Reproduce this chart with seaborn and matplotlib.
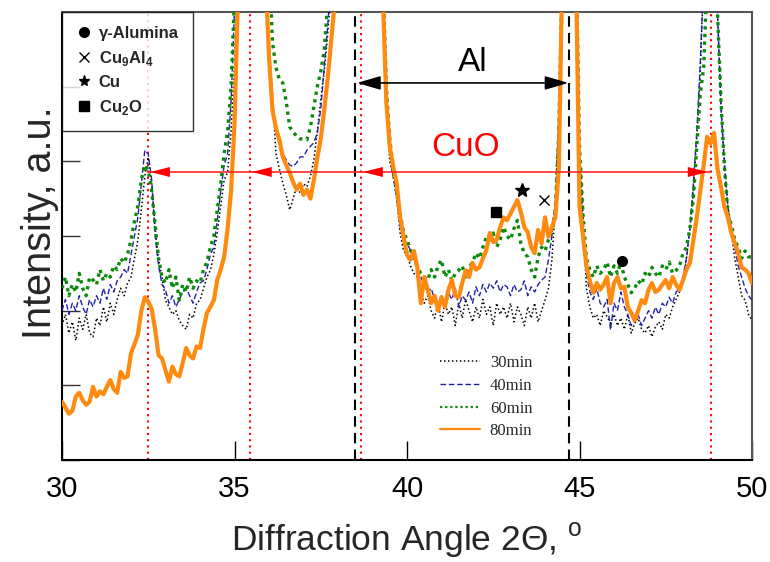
import numpy as np
import pandas as pd
import matplotlib
matplotlib.use("Agg")
import matplotlib.pyplot as plt
from matplotlib.lines import Line2D
import seaborn as sns

# ---------------- data ----------------
angle_start, angle_step, n_pts = 30.0, 0.1, 201
angles = np.round(angle_start + angle_step * np.arange(n_pts), 2)

int_30min = [
    1.80, 1.95, 1.70, 1.85, 1.60, 1.90, 1.75, 1.95, 1.70, 1.65,
    1.90, 1.80, 2.05, 1.85, 2.10, 1.95, 2.15, 2.30, 2.20, 2.37,
    2.45, 2.70, 2.95, 3.35, 3.80, 4.05, 3.70, 3.10, 2.68, 2.45,
    2.14, 2.05, 1.95, 2.00, 1.87, 1.80, 1.75, 1.95, 1.90, 2.10,
    2.14, 2.30, 2.45, 2.54, 2.75, 3.05, 3.40, 3.75, 3.85, 4.40,
    5.30, 6.50, 7.50, 8.00, 8.00, 8.00, 8.00, 8.00, 7.50, 6.80,
    5.60, 4.90, 4.11, 3.90, 3.71, 3.55, 3.35, 3.50, 3.66, 3.58,
    3.70, 3.66, 3.80, 4.02, 4.40, 4.82, 5.20, 5.70, 6.30, 7.00,
    8.00, 8.00, 8.00, 8.00, 8.00, 8.00, 8.00, 8.00, 8.00, 8.00,
    8.00, 8.00, 8.00, 6.20, 4.70, 4.00, 3.80, 3.50, 3.04, 2.80,
    2.75, 2.60, 2.50, 2.45, 2.25, 2.10, 2.20, 2.00, 1.90, 2.10,
    1.85, 2.10, 1.95, 2.05, 1.80, 2.10, 1.90, 2.15, 2.00, 1.85,
    2.05, 1.90, 2.15, 1.95, 2.05, 1.80, 2.10, 1.95, 2.05, 1.90,
    2.10, 1.85, 2.05, 1.95, 1.80, 2.05, 1.90, 2.10, 1.85, 2.00,
    2.14, 2.30, 2.68, 3.40, 4.50, 6.50, 8.00, 8.00, 8.00, 6.80,
    4.20, 3.30, 2.30, 2.05, 1.90, 1.95, 1.80, 2.00, 1.92, 1.83,
    1.95, 1.80, 1.90, 1.75, 1.95, 1.70, 1.83, 1.90, 1.75, 1.70,
    1.80, 1.65, 1.78, 1.85, 1.75, 1.95, 1.90, 2.05, 2.15, 2.25,
    2.40, 2.70, 3.10, 3.60, 4.30, 5.20, 6.50, 7.50, 8.00, 7.30,
    6.00, 4.80, 3.93, 3.40, 3.04, 2.70, 2.45, 2.20, 2.14, 1.95,
    1.87,
]

int_40min = [
    2.00, 2.15, 1.95, 2.10, 2.00, 2.20, 2.05, 1.95, 2.15, 2.05,
    2.20, 2.10, 2.30, 2.15, 2.35, 2.25, 2.40, 2.45, 2.55, 2.50,
    2.75, 3.00, 3.25, 3.70, 4.15, 4.10, 3.75, 3.00, 2.60, 2.35,
    2.28, 2.10, 2.20, 2.05, 2.15, 2.25, 2.30, 2.20, 2.10, 2.25,
    2.37, 2.40, 2.55, 2.75, 2.85, 3.20, 3.60, 3.95, 4.10, 4.80,
    6.00, 7.50, 8.00, 8.00, 8.00, 8.00, 8.00, 8.00, 7.50, 6.50,
    5.50, 4.82, 4.40, 4.24, 4.10, 4.02, 3.95, 3.93, 3.98, 4.06,
    4.06, 4.15, 4.20, 4.25, 4.38, 4.70, 5.26, 5.80, 6.50, 7.30,
    8.00, 8.00, 8.00, 8.00, 8.00, 8.00, 8.00, 8.00, 8.00, 8.00,
    8.00, 8.00, 8.00, 6.30, 4.80, 4.10, 3.80, 3.50, 3.12, 2.95,
    2.90, 2.81, 2.70, 2.55, 2.45, 2.35, 2.24, 2.30, 2.15, 2.05,
    2.20, 2.10, 2.24, 2.15, 2.30, 2.05, 2.20, 2.14, 2.25, 2.10,
    2.32, 2.20, 2.35, 2.25, 2.37, 2.30, 2.40, 2.25, 2.35, 2.32,
    2.20, 2.35, 2.25, 2.28, 2.40, 2.20, 2.32, 2.25, 2.35, 2.41,
    2.45, 2.68, 3.00, 3.50, 4.60, 6.50, 8.00, 8.00, 8.00, 6.80,
    4.00, 3.10, 2.50, 2.25, 2.15, 2.30, 2.10, 2.05, 2.15, 1.74,
    2.10, 2.00, 2.25, 2.05, 1.95, 1.80, 1.87, 1.95, 1.80, 1.90,
    2.00, 1.90, 2.05, 1.95, 2.10, 2.05, 2.18, 2.10, 2.25, 2.30,
    2.45, 2.70, 3.10, 3.70, 4.40, 5.30, 6.50, 7.80, 8.00, 7.50,
    6.00, 4.70, 4.00, 3.40, 3.10, 2.85, 2.60, 2.45, 2.30, 2.20,
    2.14,
]

int_60min = [
    2.30, 2.45, 2.20, 2.35, 2.25, 2.50, 2.30, 2.20, 2.45, 2.41,
    2.35, 2.55, 2.40, 2.50, 2.45, 2.60, 2.55, 2.70, 2.64, 2.75,
    2.95, 3.20, 3.40, 3.75, 3.95, 3.88, 3.60, 3.15, 2.70, 2.45,
    2.37, 2.55, 2.30, 2.45, 2.14, 2.35, 2.25, 2.45, 2.30, 2.40,
    2.37, 2.55, 2.65, 2.85, 3.00, 3.35, 3.70, 4.10, 4.40, 5.00,
    6.20, 7.50, 8.00, 8.00, 8.00, 8.00, 8.00, 8.00, 8.00, 7.50,
    6.80, 5.60, 5.26, 5.10, 5.05, 4.80, 4.46, 4.40, 4.33, 4.30,
    4.30, 4.29, 4.46, 4.73, 5.00, 5.20, 5.49, 6.10, 6.80, 7.50,
    8.00, 8.00, 8.00, 8.00, 8.00, 8.00, 8.00, 8.00, 8.00, 8.00,
    8.00, 8.00, 8.00, 6.50, 5.00, 4.30, 3.90, 3.60, 3.30, 3.05,
    2.95, 2.81, 2.70, 2.58, 2.50, 2.45, 2.41, 2.55, 2.45, 2.60,
    2.68, 2.45, 2.55, 2.40, 2.50, 2.54, 2.60, 2.45, 2.58, 2.65,
    2.77, 2.70, 2.85, 2.99, 2.90, 3.04, 2.85, 2.95, 3.12, 3.00,
    2.95, 3.10, 3.21, 2.90, 2.77, 2.72, 2.55, 2.45, 2.72, 2.85,
    2.80, 2.95, 3.05, 3.35, 4.40, 6.50, 8.00, 8.00, 8.00, 6.80,
    4.20, 3.30, 2.70, 2.55, 2.45, 2.60, 2.50, 2.55, 2.65, 2.45,
    2.60, 2.50, 2.65, 2.45, 2.35, 2.24, 2.30, 2.40, 2.35, 2.50,
    2.45, 2.58, 2.50, 2.45, 2.60, 2.55, 2.65, 2.50, 2.54, 2.60,
    2.77, 2.85, 3.10, 3.50, 4.20, 4.90, 5.26, 6.50, 7.50, 7.00,
    6.00, 4.82, 3.93, 3.30, 3.15, 2.95, 2.85, 2.70, 2.80, 2.72,
    2.72,
]

int_80min = [
    0.78, 0.70, 0.62, 0.66, 0.85, 0.90, 0.80, 0.74, 0.78, 0.98,
    0.85, 0.92, 0.88, 0.98, 1.07, 0.95, 0.90, 1.18, 1.10, 1.12,
    1.43, 1.55, 1.68, 2.00, 2.18, 2.12, 2.02, 1.75, 1.40, 1.36,
    1.20, 1.05, 1.25, 1.15, 1.12, 1.30, 1.50, 1.40, 1.36, 1.52,
    1.50, 1.75, 1.97, 2.05, 2.14, 2.41, 2.55, 2.72, 3.10, 3.60,
    4.50, 6.20, 7.00, 7.50, 7.50, 7.50, 7.50, 7.30, 7.00, 6.50,
    5.40, 4.69, 4.45, 4.29, 4.06, 3.95, 3.85, 3.72, 3.62, 3.70,
    3.55, 3.62, 3.50, 3.75, 4.05, 4.30, 4.69, 5.10, 5.60, 6.10,
    6.80, 7.50, 8.00, 8.00, 8.00, 8.00, 8.00, 8.00, 8.00, 8.00,
    8.00, 8.00, 8.00, 6.20, 4.80, 4.20, 3.93, 3.71, 3.25, 2.99,
    2.75, 2.68, 2.80, 2.58, 2.10, 2.45, 2.28, 2.10, 2.20, 2.00,
    2.18, 2.05, 2.28, 2.41, 2.20, 2.18, 2.37, 2.54, 2.45, 2.64,
    2.55, 2.58, 2.70, 2.81, 3.04, 2.92, 2.95, 3.12, 3.25, 3.21,
    3.30, 3.39, 3.48, 3.32, 3.12, 3.05, 2.85, 2.77, 3.08, 2.90,
    3.25, 2.99, 3.12, 3.25, 3.90, 6.50, 8.00, 8.00, 8.00, 6.50,
    3.40, 3.00, 2.60, 2.40, 2.24, 2.37, 2.28, 2.35, 2.45, 2.10,
    2.37, 2.45, 2.30, 2.32, 2.05, 1.97, 1.87, 2.00, 2.14, 2.10,
    2.28, 2.37, 2.25, 2.28, 2.35, 2.41, 2.30, 2.45, 2.35, 2.28,
    2.41, 2.55, 2.64, 2.95, 3.25, 3.60, 3.95, 4.33, 4.24, 4.38,
    3.90, 3.66, 3.39, 3.25, 3.04, 2.90, 2.77, 2.58, 2.55, 2.50,
    2.37,
]

series_labels = ["30min", "40min", "60min", "80min"]

phase_labels = ["\u03b3-Alumina", r"Cu$_\mathbf{9}$Al$_\mathbf{4}$", "Cu", r"Cu$_\mathbf{2}$O"]
phase_markers = ["o", "x", "*", "s"]
phase_x = [46.23, 43.97, 43.33, 42.58]
phase_y = [2.665, 3.48, 3.62, 3.32]

cuo_peaks = [32.5, 35.45, 38.67, 48.8]
al_peaks = [38.5, 44.7]
cuo_arrow_y = 3.857
al_arrow_y = 5.05

x_ticks = [30, 35, 40, 45, 50]

# ---------------- plotting ----------------
sns.set_theme(style="white")
plt.rcParams["font.family"] = ["Liberation Sans", "DejaVu Sans"]
plt.rcParams["mathtext.fontset"] = "custom"
plt.rcParams["mathtext.rm"] = "Liberation Sans"
plt.rcParams["mathtext.bf"] = "Liberation Sans:bold"

df = pd.DataFrame({"angle": angles, "30min": int_30min, "40min": int_40min,
                   "60min": int_60min, "80min": int_80min})

fig = plt.figure(figsize=(7.7, 5.62), dpi=100)
ax = fig.add_axes([62 / 770, 1 - 460 / 562, 690 / 770, 448 / 562])

styles = {
    "30min": dict(color="black", lw=1.1, ls=(0, (1, 1.6))),
    "40min": dict(color="#2222a8", lw=1.0, ls=(0, (4, 2))),
    "60min": dict(color="#0a8a0a", lw=2.4, ls=(0, (1, 1.3))),
    "80min": dict(color="#ff8a10", lw=3.0, ls="-"),
}

# reference lines
for xv in cuo_peaks:
    ax.axvline(xv, color="red", lw=1.5, ls=(0, (1, 2)), zorder=1)
for xv in al_peaks:
    ax.axvline(xv, color="black", lw=1.5, ls=(0, (5, 3)), zorder=1)

line_handles = []
for lab in series_labels:
    st = styles[lab]
    sns.lineplot(data=df, x="angle", y=lab, ax=ax, color=st["color"],
                 linewidth=st["lw"], linestyle=st["ls"], legend=False, zorder=3)
    line_handles.append(Line2D([], [], color=st["color"], lw=min(st["lw"], 1.6),
                               ls=st["ls"], label=lab))

# CuO arrow line
ax.plot([cuo_peaks[0], cuo_peaks[-1]], [cuo_arrow_y, cuo_arrow_y], color="#ff2a2a", lw=1.2, zorder=4)
arrow_kw = dict(arrowstyle="-|>,head_length=1.2,head_width=0.3", color="red", lw=0.01,
                shrinkA=0, shrinkB=0)
for xv in cuo_peaks[:-1]:
    ax.annotate("", xy=(xv + 0.05, cuo_arrow_y), xytext=(xv + 0.7, cuo_arrow_y),
                arrowprops=arrow_kw, zorder=5)
ax.annotate("", xy=(cuo_peaks[-1] - 0.08, cuo_arrow_y), xytext=(cuo_peaks[-1] - 0.8, cuo_arrow_y),
            arrowprops=arrow_kw, zorder=5)

# Al double arrow
ax.annotate("", xy=(al_peaks[0] + 0.05, al_arrow_y), xytext=(al_peaks[1] - 0.02, al_arrow_y),
            arrowprops=dict(arrowstyle="<|-|>,head_length=1.2,head_width=0.35", color="black",
                            lw=1.2, shrinkA=0, shrinkB=0), zorder=5)

ax.text(41.9, 5.33, "Al", fontsize=24, ha="center", va="center", color="black")
ax.text(41.7, 4.18, "CuO", fontsize=24, ha="center", va="center", color="red")

# phase markers
phase_handles = []
for lab, mk, xv, yv in zip(phase_labels, phase_markers, phase_x, phase_y):
    size = {"o": 7, "x": 7, "*": 10, "s": 7}[mk]
    ax.plot([xv], [yv], marker=mk, ls="none", color="black", markersize=size,
            markeredgewidth=1.0, zorder=6)
    phase_handles.append(Line2D([], [], marker=mk, ls="none", color="black",
                                markersize={"o": 7, "x": 7, "*": 8, "s": 7}[mk],
                                markeredgewidth=1.0, label=lab))

leg1 = ax.legend(handles=phase_handles, loc="upper left", bbox_to_anchor=(0, 1),
                 borderaxespad=0, frameon=True, fancybox=False, edgecolor="black",
                 prop=dict(family="Liberation Sans", weight="bold", size=12),
                 handlelength=1.0, handletextpad=0.35, labelspacing=0.45,
                 borderpad=0.85)
leg1.get_frame().set_linewidth(1.0)
leg1.set_zorder(10)
ax.add_artist(leg1)

leg2 = ax.legend(handles=line_handles, loc="center", bbox_to_anchor=(0.6145, 0.14),
                 frameon=False, prop=dict(family="Liberation Serif", size=12),
                 handlelength=2.4, handletextpad=0.6, labelspacing=0.4)

ax.set_xlim(30, 50)
ax.set_ylim(0, 6)
ax.set_xticks(x_ticks)
ax.set_xticklabels([str(t) for t in x_ticks])
ax.set_yticks(range(0, 7))
ax.set_yticklabels([])
ax.tick_params(axis="x", direction="in", length=14, width=1.0, labelsize=21, pad=11,
               bottom=True, top=False, colors="black")
ax.tick_params(axis="y", direction="in", length=13, width=1.0, left=True, right=False,
               color="#333333")

for side in ["left", "bottom"]:
    ax.spines[side].set_color("black")
    ax.spines[side].set_linewidth(1.5)
for side in ["top", "right"]:
    ax.spines[side].set_color("#555555")
    ax.spines[side].set_linewidth(1.5)

ax.set_xlabel("Diffraction Angle 2\u0398, $^\\mathregular{o}$", fontsize=25.5, labelpad=12)
ax.set_ylabel("Intensity, a.u.", fontsize=28.5)
ax.yaxis.set_label_coords(-0.005, 0.53)

fig.savefig("out.png", dpi=100)
